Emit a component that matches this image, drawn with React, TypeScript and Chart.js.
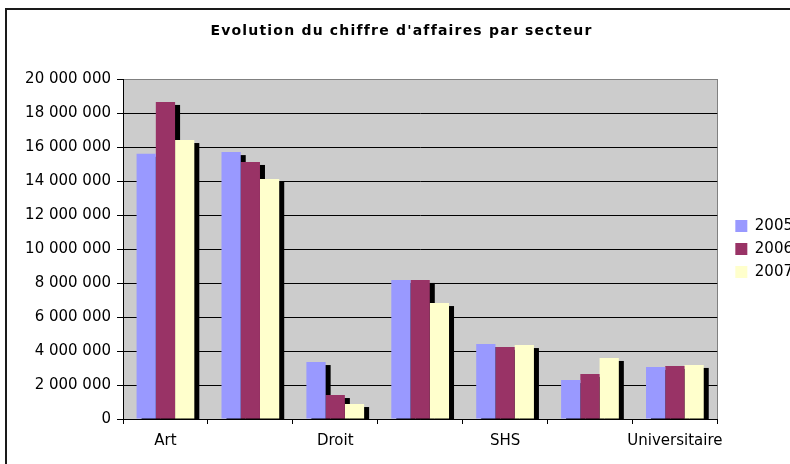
import React, { useEffect, useRef } from "react";
import { Chart, registerables } from "chart.js";

Chart.register(...registerables);

const titleText = "Evolution du chiffre d'affaires par secteur";
const categories = ["Art", "", "Droit", "", "SHS", "", "Universitaire"];
const seriesNames = ["2005", "2006", "2007"];
const values2005 = [15600000, 15700000, 3350000, 8180000, 4410000, 2290000, 3060000];
const values2006 = [18650000, 15120000, 1410000, 8180000, 4240000, 2650000, 3120000];
const values2007 = [16410000, 14120000, 880000, 6820000, 4350000, 3590000, 3180000];
const seriesColors = ["#9999FF", "#993366", "#FFFFCC"];
const yMin = 0;
const yMax = 20000000;
const yStep = 2000000;

const fmt = (v: number | string) =>
  String(Math.round(Number(v))).replace(/\B(?=(\d{3})+(?!\d))/g, " ");

export default function App() {
  const ref = useRef<HTMLCanvasElement>(null);

  useEffect(() => {
    const canvas = ref.current;
    if (!canvas) return;

    const excelLook = {
      id: "excelLook",
      beforeDraw(chart: any) {
        const { ctx, chartArea: a } = chart;
        ctx.save();
        ctx.fillStyle = "#ffffff";
        ctx.fillRect(0, 0, chart.width, chart.height);
        ctx.strokeStyle = "#1a1a1a";
        ctx.lineWidth = 2;
        ctx.strokeRect(6, 9, chart.width + 100, chart.height + 100);
        ctx.fillStyle = "#cccccc";
        ctx.fillRect(a.left, a.top, a.right - a.left, a.bottom - a.top);
        ctx.strokeStyle = "#808080";
        ctx.lineWidth = 1;
        ctx.strokeRect(
          Math.round(a.left) + 0.5,
          Math.round(a.top) + 0.5,
          Math.round(a.right) - Math.round(a.left),
          Math.round(a.bottom) - Math.round(a.top)
        );
        ctx.restore();
        const tb = chart.titleBlock;
        if (tb && !tb.__ls) {
          const orig = tb.draw.bind(tb);
          tb.draw = (...args: any[]) => {
            const c: any = chart.ctx;
            const prev = c.letterSpacing;
            c.letterSpacing = "1.2px";
            orig(...args);
            c.letterSpacing = prev || "0px";
          };
          tb.__ls = true;
        }
      },
      beforeDatasetsDraw(chart: any) {
        // Excel-style drop shadows: drawn behind every bar before the bars themselves
        const { ctx, chartArea: a } = chart;
        ctx.save();
        ctx.beginPath();
        ctx.rect(a.left, a.top, a.right - a.left, a.bottom - a.top);
        ctx.clip();
        ctx.fillStyle = "#000000";
        chart.data.datasets.forEach((_ds: any, i: number) => {
          if (!chart.isDatasetVisible(i)) return;
          const meta = chart.getDatasetMeta(i);
          meta.data.forEach((el: any) => {
            const { x, y, base, width } = el.getProps(["x", "y", "base", "width"], true);
            const top = Math.min(y, base);
            ctx.fillRect(x - width / 2 + 5, top + 3, width, Math.abs(base - y));
          });
        });
        ctx.restore();
      },
    };

    Chart.defaults.font.family = "'DejaVu Sans', Verdana, sans-serif";
    Chart.defaults.color = "#000";

    const seriesValues = [values2005, values2006, values2007];

    const chart = new Chart(canvas, {
      type: "bar",
      data: {
        labels: categories,
        datasets: seriesNames.map((name, i) => ({
          label: name,
          data: seriesValues[i],
          backgroundColor: seriesColors[i],
          borderWidth: 0,
          categoryPercentage: 0.68,
          barPercentage: 1,
          clip: 0,
        })),
      },
      options: {
        animation: false,
        responsive: false,
        layout: { padding: 0 },
        plugins: {
          title: {
            display: true,
            text: titleText,
            color: "#000",
            font: { size: 14, weight: "bold" },
            padding: { top: 22.6, bottom: 39.6 },
          },
          legend: {
            position: "right",
            fullSize: false,
            labels: {
              boxWidth: 12,
              boxHeight: 12,
              padding: 8,
              color: "#000",
              font: { size: 15 },
            },
          },
          tooltip: { enabled: false },
        },
        scales: {
          x: {
            grid: {
              display: true,
              drawOnChartArea: false,
              offset: true,
              tickLength: 5,
              color: "#000",
              tickColor: "#000",
            },
            border: { color: "#000" },
            ticks: {
              autoSkip: false,
              maxRotation: 0,
              padding: 8,
              color: "#000",
              font: { size: 15 },
            },
            afterFit: (s: any) => {
              s.height = 45;
            },
          },
          y: {
            min: yMin,
            max: yMax,
            ticks: {
              stepSize: yStep,
              padding: 6,
              color: "#000",
              font: { size: 15 },
              callback: (v: any) => fmt(v),
            },
            grid: {
              color: (c: any) => (c.tick && c.tick.value === yMax ? "#808080" : "#000"),
              tickColor: "#000",
              tickLength: 6,
            },
            border: { color: "#000" },
            afterFit: (s: any) => {
              s.width = 123;
            },
          },
          y2: {
            type: "linear",
            position: "right",
            display: true,
            grid: { display: false },
            ticks: { display: false },
            border: { display: false },
            afterFit: (s: any) => {
              s.width = 10;
            },
          },
        },
      } as any,
      plugins: [excelLook],
    });
    chart.draw();

    return () => chart.destroy();
  }, []);

  return (
    <div
      style={{
        position: "fixed",
        left: 0,
        top: 0,
        width: 790,
        height: 464,
        overflow: "hidden",
        background: "#fff",
      }}
    >
      <canvas ref={ref} width={803} height={464} style={{ display: "block" }} />
    </div>
  );
}
